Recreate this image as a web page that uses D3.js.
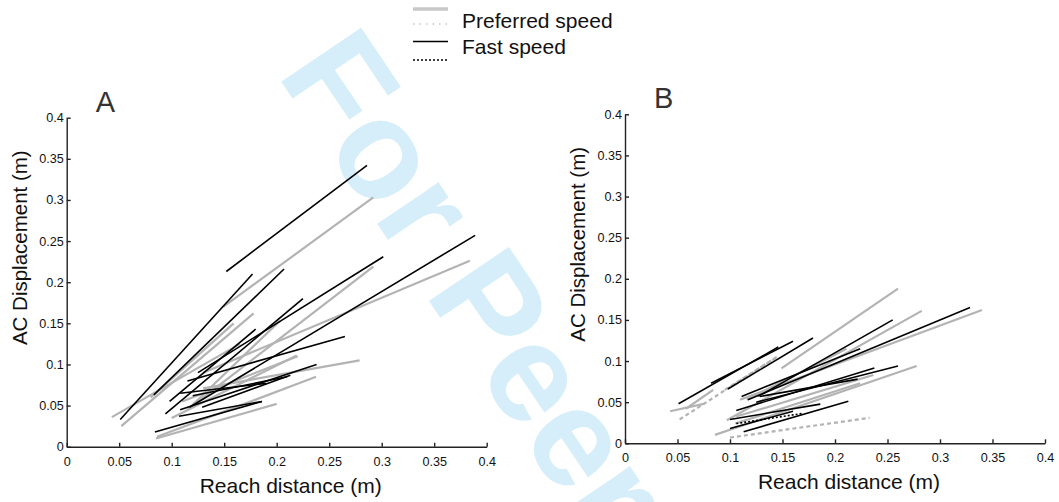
<!DOCTYPE html>
<html lang="en">
<head>
    <meta charset="UTF-8">
    <title>AC displacement vs reach distance</title>
    <script src="https://cdn.jsdelivr.net/npm/d3@7"></script>
    <style>
        body { margin: 0; background: #fff; }
        svg { font-family: "Liberation Sans", Arial, sans-serif; }
    </style>
</head>
<body>
<svg width="1059" height="502" id="chart"></svg>
<script>
    // tick values / labels shared by both panels
    const tickValues = [0, 0.05, 0.1, 0.15, 0.2, 0.25, 0.3, 0.35, 0.4];
    const tickLabels = ["0", "0.05", "0.1", "0.15", "0.2", "0.25", "0.3", "0.35", "0.4"];

    // each segment: [x1, y1, x2, y2] (reach distance, AC displacement)
    const aFast = [
        [0.152, 0.213, 0.286, 0.342],
        [0.051, 0.033, 0.177, 0.210],
        [0.083, 0.063, 0.207, 0.216],
        [0.125, 0.090, 0.3015, 0.231],
        [0.117, 0.048, 0.389, 0.257],
        [0.094, 0.040, 0.225, 0.180],
        [0.084, 0.018, 0.186, 0.055],
        [0.108, 0.045, 0.238, 0.100],
        [0.115, 0.080, 0.265, 0.134],
        [0.098, 0.055, 0.180, 0.143],
        [0.129, 0.048, 0.213, 0.087],
        [0.108, 0.065, 0.190, 0.077],
        [0.120, 0.062, 0.210, 0.085],
        [0.107, 0.037, 0.186, 0.055]
    ];
    const aPref = [
        [0.149, 0.170, 0.292, 0.303],
        [0.043, 0.036, 0.165, 0.125],
        [0.052, 0.025, 0.178, 0.162],
        [0.080, 0.060, 0.159, 0.150],
        [0.120, 0.050, 0.292, 0.219],
        [0.130, 0.090, 0.384, 0.226],
        [0.130, 0.071, 0.279, 0.105],
        [0.086, 0.012, 0.2375, 0.085],
        [0.085, 0.010, 0.200, 0.052],
        [0.115, 0.045, 0.203, 0.153],
        [0.100, 0.035, 0.219, 0.111],
        [0.110, 0.055, 0.220, 0.110]
    ];
    const bFast = [
        [0.051, 0.048, 0.146, 0.117],
        [0.082, 0.073, 0.160, 0.124],
        [0.098, 0.066, 0.179, 0.128],
        [0.111, 0.057, 0.224, 0.115],
        [0.127, 0.057, 0.255, 0.150],
        [0.117, 0.053, 0.3286, 0.165],
        [0.106, 0.040, 0.2375, 0.0915],
        [0.1286, 0.057, 0.2216, 0.078],
        [0.100, 0.029, 0.186, 0.0476],
        [0.113, 0.014, 0.2127, 0.051],
        [0.125, 0.050, 0.260, 0.094],
        [0.100, 0.018, 0.160, 0.039]
    ];
    const bFastDotted = [
        [0.106, 0.024, 0.170, 0.0365]
    ];
    const bPref = [
        [0.043, 0.039, 0.075, 0.048],
        [0.058, 0.042, 0.084, 0.065],
        [0.0857, 0.0102, 0.2778, 0.094],
        [0.097, 0.028, 0.2826, 0.161],
        [0.149, 0.091, 0.260, 0.188],
        [0.1095, 0.053, 0.340, 0.162],
        [0.116, 0.053, 0.211, 0.115],
        [0.105, 0.024, 0.224, 0.073],
        [0.106, 0.0325, 0.2365, 0.083]
    ];
    const bPrefDashed = [
        [0.052, 0.029, 0.1445, 0.105],
        [0.100, 0.007, 0.233, 0.031],
        [0.095, 0.065, 0.145, 0.105]
    ];

    const svg = d3.select("#chart");

    // watermark behind everything
    svg.append("text")
        .attr("transform", "translate(276,74) rotate(56)")
        .attr("font-size", 140)
        .attr("font-weight", "bold")
        .attr("fill", "#d5eefa")
        .text("For Peer Review");

    function panel(left, bottom, letter, series) {
        const x = d3.scaleLinear().domain([0, 0.4]).range([left, left + 420]);
        const y = d3.scaleLinear().domain([0, 0.4]).range([bottom, bottom - 329]);
        const g = svg.append("g");

        const xAxis = g.append("g")
            .attr("transform", `translate(0,${bottom})`)
            .call(d3.axisBottom(x).tickValues(tickValues)
                .tickFormat((d, i) => tickLabels[i])
                .tickSizeInner(-4).tickSizeOuter(0).tickPadding(10));
        const yAxis = g.append("g")
            .attr("transform", `translate(${left},0)`)
            .call(d3.axisLeft(y).tickValues(tickValues)
                .tickFormat((d, i) => tickLabels[i])
                .tickSizeInner(-4).tickSizeOuter(0).tickPadding(3));
        [xAxis, yAxis].forEach(a => {
            a.selectAll("path, line").attr("stroke", "#222").attr("stroke-width", 1.4);
            a.selectAll("text").attr("font-size", 12.6).attr("fill", "#111")
                .attr("font-family", "Liberation Sans, Arial, sans-serif");
        });

        series.forEach(s => {
            g.append("g").selectAll("line")
                .data(s.data)
                .join("line")
                .attr("x1", d => x(d[0]))
                .attr("y1", d => y(d[1]))
                .attr("x2", d => x(d[2]))
                .attr("y2", d => y(d[3]))
                .attr("stroke", s.color)
                .attr("stroke-width", s.width)
                .attr("stroke-dasharray", s.dash || null);
        });

        g.append("text")
            .attr("x", left + 224)
            .attr("y", bottom + 46)
            .attr("text-anchor", "middle")
            .attr("font-size", 21)
            .attr("fill", "#111")
            .text("Reach distance (m)");
        g.append("text")
            .attr("transform", `translate(${left - 40},${bottom - 199}) rotate(-90)`)
            .attr("text-anchor", "middle")
            .attr("font-size", 20.5)
            .attr("fill", "#111")
            .text("AC Displacement (m)");
        g.append("text")
            .attr("x", left + 29)
            .attr("y", bottom - 335)
            .attr("font-size", 29)
            .attr("fill", "#333")
            .text(letter);
    }

    const prefStyle = { color: "#b3b3b3", width: 2.2 };
    const fastStyle = { color: "#000", width: 1.6 };

    panel(66.7, 446.7, "A", [
        { data: aPref, ...prefStyle },
        { data: aFast, ...fastStyle }
    ]);
    panel(625, 443.3, "B", [
        { data: bPref, ...prefStyle },
        { data: bPrefDashed, ...prefStyle, dash: "4,3" },
        { data: bFast, ...fastStyle },
        { data: bFastDotted, ...fastStyle, dash: "2,2" }
    ]);

    // legend
    const legendItems = [
        { y: 9, color: "#c8c8c8", width: 3.6, dash: null },
        { y: 24, color: "#c8c8c8", width: 1.6, dash: "1.5,5" },
        { y: 41.5, color: "#000", width: 1.5, dash: null },
        { y: 60, color: "#000", width: 1.5, dash: "2,2" }
    ];
    const legend = svg.append("g");
    legend.selectAll("line")
        .data(legendItems)
        .join("line")
        .attr("x1", 413).attr("x2", 448)
        .attr("y1", d => d.y).attr("y2", d => d.y)
        .attr("stroke", d => d.color)
        .attr("stroke-width", d => d.width)
        .attr("stroke-dasharray", d => d.dash);
    legend.selectAll("text")
        .data(["Preferred speed", "Fast speed"])
        .join("text")
        .attr("x", 462)
        .attr("y", (d, i) => 27.5 + i * 26.5)
        .attr("font-size", 21)
        .attr("fill", "#111")
        .text(d => d);
</script>
</body>
</html>
